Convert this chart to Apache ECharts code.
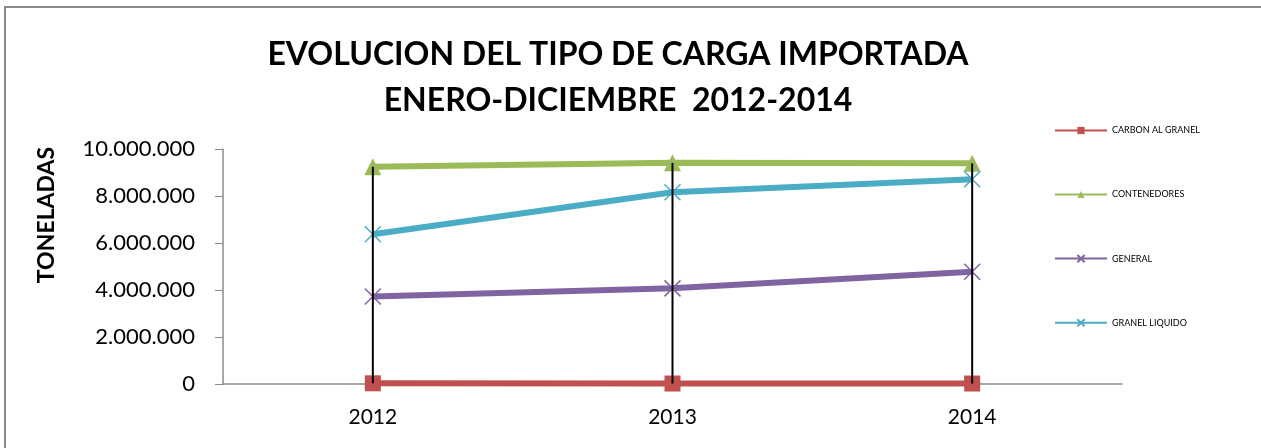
<!DOCTYPE html>
<html>
<head>
<meta charset="utf-8">
<script src="https://cdn.jsdelivr.net/npm/echarts@6/dist/echarts.min.js"></script>
<style>
  html, body { margin: 0; padding: 0; background: #fff; }
  #chart { width: 1261px; height: 448px; }
</style>
</head>
<body>
<div id="chart"></div>
<script>
// datos
var years = ["2012", "2013", "2014"];
var carbon = [30000, 20000, 20000];
var contenedores = [9240000, 9410000, 9390000];
var general = [3720000, 4070000, 4780000];
var granelLiquido = [6370000, 8160000, 8710000];
var yTicks = [0, 2000000, 4000000, 6000000, 8000000, 10000000];

var font = "Lato, 'Open Sans', sans-serif";
var xPath = "path://M0,0 L10,10 M10,0 L0,10";

function fmt(v) {
  return String(v).replace(/\B(?=(\d{3})+(?!\d))/g, ".");
}

// lineas max-min por año (high-low lines)
var hiLo = years.map(function (y, i) {
  var vals = [carbon[i], contenedores[i], general[i], granelLiquido[i]];
  return [i, Math.max.apply(null, vals), Math.min.apply(null, vals)];
});

var chart = echarts.init(document.getElementById("chart"));
var option = {
  animation: false,
  backgroundColor: "#fff",
  graphic: [
    {
      type: "polyline",
      shape: { points: [[5, 448], [5, 7], [1261, 7]] },
      style: { stroke: "#8a8a8a", lineWidth: 2, fill: null }
    },
    {
      type: "text",
      x: 47,
      y: 215,
      rotation: Math.PI / 2,
      style: {
        text: "TONELADAS",
        fontFamily: font,
        fontWeight: "bold",
        fontSize: 23,
        fill: "#000",
        align: "center",
        verticalAlign: "middle"
      }
    }
  ],
  title: {
    text: "EVOLUCION DEL TIPO DE CARGA IMPORTADA\nENERO-DICIEMBRE  2012-2014",
    left: 613,
    textAlign: "center",
    top: 27,
    textStyle: {
      fontFamily: font,
      fontWeight: "bold",
      fontSize: 32,
      lineHeight: 46,
      color: "#000"
    }
  },
  legend: {
    orient: "vertical",
    left: 1049,
    top: 121,
    itemWidth: 52,
    itemHeight: 9,
    itemGap: 55,
    textStyle: { fontFamily: font, fontSize: 9, color: "#000" },
    data: ["CARBON AL GRANEL", "CONTENEDORES", "GENERAL", "GRANEL LIQUIDO"]
  },
  grid: { left: 223, right: 139, top: 149, bottom: 64 },
  xAxis: {
    type: "category",
    data: years,
    boundaryGap: true,
    axisLine: { lineStyle: { color: "#8a8a8a", width: 1.5 } },
    axisTick: { show: false },
    axisLabel: { fontFamily: font, fontSize: 21, color: "#000", margin: 23 }
  },
  yAxis: {
    type: "value",
    min: 0,
    max: 10000000,
    interval: 2000000,
    axisLine: { show: true, lineStyle: { color: "#8a8a8a", width: 1.5 } },
    axisTick: { show: true, inside: false, length: 8, lineStyle: { color: "#8a8a8a" } },
    splitLine: { show: false },
    axisLabel: {
      fontFamily: font, fontSize: 22, color: "#000", margin: 28,
      formatter: function (v) { return yTicks.indexOf(v) >= 0 ? fmt(v) : ""; }
    }
  },
  series: [
    {
      type: "custom",
      name: "hilo",
      silent: true,
      z: 5,
      data: hiLo,
      renderItem: function (params, api) {
        var p1 = api.coord([api.value(0), api.value(1)]);
        var p2 = api.coord([api.value(0), api.value(2)]);
        return {
          type: "line",
          shape: { x1: p1[0], y1: p1[1], x2: p2[0], y2: p2[1] },
          style: { stroke: "#000", lineWidth: 2 }
        };
      }
    },
    {
      name: "CARBON AL GRANEL",
      type: "line",
      data: carbon,
      symbol: "rect",
      symbolSize: 16,
      lineStyle: { color: "#C0504D", width: 6 },
      itemStyle: { color: "#C0504D" },
      z: 3
    },
    {
      name: "CONTENEDORES",
      type: "line",
      data: contenedores,
      symbol: "triangle",
      symbolSize: 17,
      lineStyle: { color: "#9BBB59", width: 6 },
      itemStyle: { color: "#9BBB59" },
      z: 3
    },
    {
      name: "GENERAL",
      type: "line",
      data: general,
      symbol: xPath,
      symbolSize: 16,
      lineStyle: { color: "#8064A2", width: 6 },
      itemStyle: { color: "rgba(0,0,0,0)", borderColor: "#8064A2", borderWidth: 1.5 },
      z: 3
    },
    {
      name: "GRANEL LIQUIDO",
      type: "line",
      data: granelLiquido,
      symbol: xPath,
      symbolSize: 16,
      lineStyle: { color: "#4BACC6", width: 6 },
      itemStyle: { color: "rgba(0,0,0,0)", borderColor: "#4BACC6", borderWidth: 1.5 },
      z: 3
    }
  ]
};
chart.setOption(option);
</script>
</body>
</html>
